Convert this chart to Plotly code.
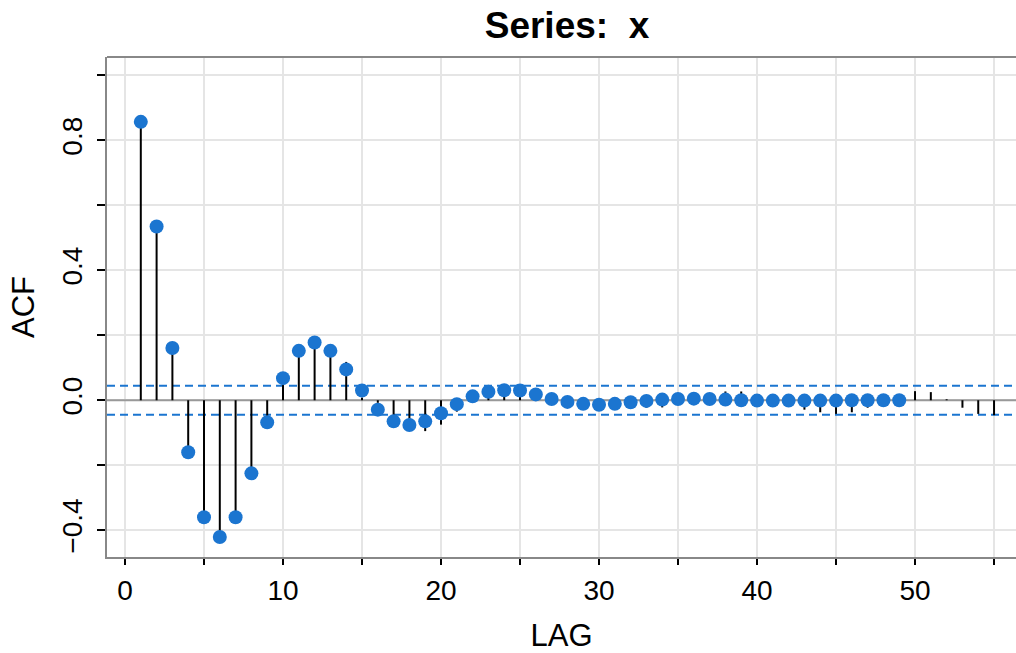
import plotly.graph_objects as go

# ---- data ----
point_lags = list(range(1, 50))
point_acf = [0.857, 0.535, 0.161, -0.160, -0.360, -0.421, -0.360, -0.225, -0.068, 0.068,
             0.152, 0.178, 0.152, 0.095, 0.030, -0.029, -0.065, -0.076, -0.065, -0.040,
             -0.012, 0.012, 0.026, 0.031, 0.030, 0.018, 0.004, -0.005, -0.011, -0.014,
             -0.011, -0.006, -0.002, 0.002, 0.004, 0.005, 0.004, 0.002, 0.000, -0.001,
             -0.001, -0.001, -0.001, -0.001, -0.001, 0.000, 0.000, 0.000, 0.000]

stem_lags = list(range(1, 56))
stem_acf = [0.857, 0.535, 0.161, -0.160, -0.360, -0.421, -0.360, -0.225, -0.068, 0.068,
            0.152, 0.178, 0.152, 0.118, 0.008, -0.008, -0.062, -0.090, -0.095, -0.075,
            -0.035, 0.005, 0.020, 0.020, 0.047, 0.015, 0.000, -0.008, -0.010, -0.012,
            -0.010, -0.005, -0.023, -0.022, 0.003, 0.005, 0.010, 0.027, 0.027, 0.005,
            0.003, -0.003, -0.029, -0.037, -0.042, -0.037, -0.023, -0.005, 0.000, 0.028,
            0.025, 0.003, -0.023, -0.042, -0.046]

conf_limit = 0.0446

x_tickvals = list(range(0, 60, 5))
x_ticktext = ["0", "", "10", "", "20", "", "30", "", "40", "", "50", ""]
y_tickvals = [-0.4, -0.2, 0.0, 0.2, 0.4, 0.6, 0.8, 1.0]
y_ticktext = ["\u22120.4", "", "0.0", "", "0.4", "", "0.8", ""]

title_text = "Series:\u00a0\u00a0x"
x_label = "LAG"
y_label = "ACF"

# ---- figure ----
X_RANGE = [-1.139, 56.39]
Y_RANGE = [-0.4825, 1.0566]
BLUE = "#1b75d0"

fig = go.Figure()

# zero line and confidence bounds
fig.add_trace(go.Scatter(x=X_RANGE, y=[0, 0], mode="lines",
                         line=dict(color="#999999", width=2), hoverinfo="skip",
                         showlegend=False))
for lim in (conf_limit, -conf_limit):
    fig.add_trace(go.Scatter(x=X_RANGE, y=[lim, lim], mode="lines",
                             line=dict(color=BLUE, width=2, dash="8px,5px"),
                             hoverinfo="skip", showlegend=False))

# stems
sx, sy = [], []
for lag, v in zip(stem_lags, stem_acf):
    sx += [lag, lag, None]
    sy += [0, v, None]
fig.add_trace(go.Scatter(x=sx, y=sy, mode="lines",
                         line=dict(color="black", width=2), showlegend=False))

# points
fig.add_trace(go.Scatter(x=point_lags, y=point_acf, mode="markers",
                         marker=dict(color=BLUE, size=14, line=dict(width=0)),
                         showlegend=False))

fig.update_layout(
    width=1016, height=653, autosize=False,
    margin=dict(l=107, r=0, t=57, b=96),
    plot_bgcolor="white", paper_bgcolor="white",
    font=dict(family="Liberation Sans, Arial, sans-serif", color="black"),
    title=dict(text="<b>" + title_text + "</b>", font=dict(size=37, color="black"),
               x=567 / 1016, xref="container", xanchor="center",
               y=1 - 25 / 653, yref="container", yanchor="middle"),
    showlegend=False,
)

fig.update_xaxes(
    range=X_RANGE, tickmode="array", tickvals=x_tickvals, ticktext=x_ticktext,
    showgrid=True, gridcolor="#e5e5e5", gridwidth=1.5, zeroline=False,
    showline=True, linecolor="#888888", linewidth=2,
    ticks="outside", ticklen=6, tickwidth=2, tickcolor="black",
    tickfont=dict(size=28), ticklabelstandoff=1,
    title=dict(text=x_label, font=dict(size=31), standoff=21),
)
fig.update_yaxes(
    range=Y_RANGE, tickmode="array", tickvals=y_tickvals, ticktext=y_ticktext,
    showgrid=True, gridcolor="#e5e5e5", gridwidth=1.5, zeroline=False,
    showline=True, linecolor="#888888", linewidth=2,
    ticks="outside", ticklen=8, tickwidth=2, tickcolor="black",
    tickfont=dict(size=28), tickangle=-90, ticklabelstandoff=4,
    title=dict(text=y_label, font=dict(size=31), standoff=13),
)

# top border of the plot box
fig.add_shape(type="line", xref="paper", yref="paper", x0=0, x1=1, y0=1, y1=1,
              line=dict(color="#888888", width=2), layer="above")

fig.write_html("out.html", config={"displayModeBar": False},
               post_script="document.body.style.margin='0';")
